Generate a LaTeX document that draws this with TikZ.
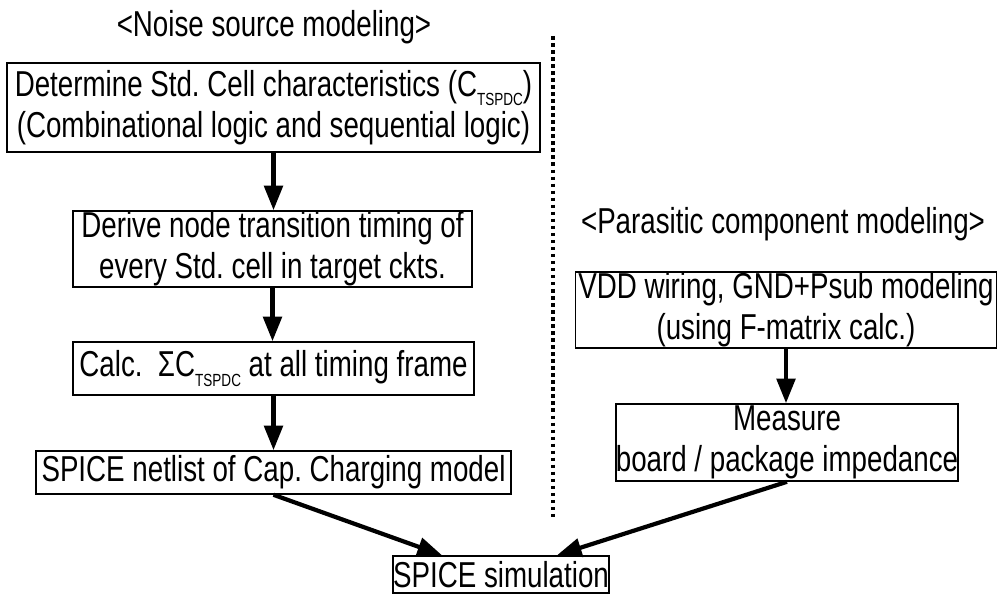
\documentclass[tikz,border=0pt]{standalone}
\usepackage{fontspec}
\setmainfont[FakeStretch=0.77]{Liberation Sans}
\usetikzlibrary{arrows.meta}

\tikzset{
    box/.style={draw, line width=0.9pt, inner sep=0pt, align=center, font=\fontsize{20.5}{23.5}\selectfont\frenchspacing},
    heading/.style={font=\fontsize{20.5}{23}\selectfont},
    flow/.style={->, line width=2.4pt},
}
\newcommand{\ctspdc}{C\raisebox{-0.5ex}{\fontsize{10}{10}\selectfont TSPDC}}

\begin{document}
\begin{tikzpicture}[x=0.02cm,y=-0.02cm,>={Triangle[length=14pt,width=10.5pt]}]
    \useasboundingbox (0,0) rectangle (1000,594);
    % noise source side
    \node[heading] (noise) at (274,27) {<Noise source modeling>};
    \node[box,minimum width=10.66cm,minimum height=1.78cm] (cell) at (273.5,107.5)
        {Determine Std. Cell characteristics (\ctspdc)\\(Combinational logic and sequential logic)};
    \node[box,minimum width=7.98cm,minimum height=1.52cm] (timing) at (272.5,249)
        {Derive node transition timing of\\every Std. cell in target ckts.};
    \node[box,minimum width=8.02cm,minimum height=1.06cm] (sum) at (273.5,368.5)
        {Calc.\ \ Σ\ctspdc{} at all timing frame};
    \node[box,minimum width=9.5cm,minimum height=0.86cm] (netlist) at (273.5,472.5)
        {SPICE netlist of Cap. Charging model};
    % parasitic side
    \node[heading] (parasitic) at (783,224) {<Parasitic component modeling>};
    \node[box,minimum width=8.42cm,minimum height=1.52cm] (wiring) at (786,310)
        {VDD wiring, GND+Psub modeling\\(using F-matrix calc.)};
    \node[box,minimum width=6.72cm,minimum height=1.54cm] (measure) at (787,442.5)
        {Measure\\board / package impedance};
    \node[box,minimum width=4.32cm,minimum height=0.74cm] (sim) at (501,574.5)
        {SPICE simulation};
    % divider
    \draw[line width=2pt, dash pattern=on 2pt off 2pt] (553,36) -- (553,520);
    % flow
    \draw[flow] (cell.south) -- (cell.south |- timing.north);
    \draw[flow] (timing.south) -- (timing.south |- sum.north);
    \draw[flow] (sum.south) -- (sum.south |- netlist.north);
    \draw[flow] (wiring.south) -- (wiring.south |- measure.north);
    \draw[flow] (netlist.south) -- ([xshift=-1.18cm]sim.north);
    \draw[flow] (measure.south) -- ([xshift=1.12cm]sim.north);
\end{tikzpicture}
\end{document}
